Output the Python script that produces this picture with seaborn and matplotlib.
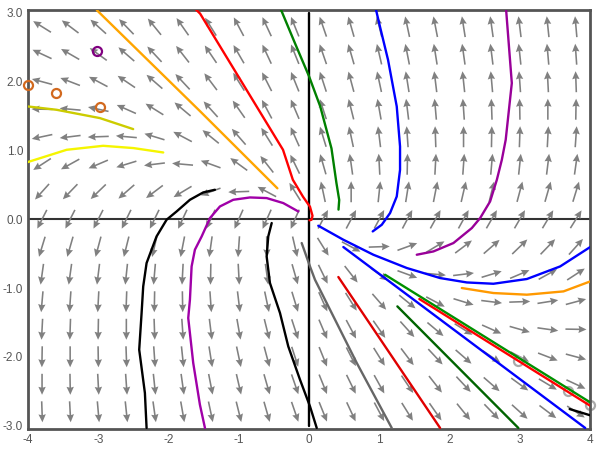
import numpy as np
import pandas as pd
import seaborn as sns
import matplotlib
matplotlib.use("Agg")
import matplotlib.pyplot as plt

# arrow grid
grid_x = [-3.8, -3.4, -3.0, -2.6, -2.2, -1.8, -1.4, -1.0, -0.6, -0.2,
          0.2, 0.6, 1.0, 1.4, 1.8, 2.2, 2.6, 3.0, 3.4, 3.8]
grid_y = [2.8, 2.4, 2.0, 1.6, 1.2, 0.8, 0.4, 0.0, -0.4, -0.8, -1.2, -1.6, -2.0, -2.4, -2.8]

# arrow directions in degrees, one row per grid_y value
arrow_deg = [
    [148, 143, 138, 134, 129, 125, 122, 118, 115, 112, 109, 106, 104, 102, 101, 99, 98, 97, 96, 95],
    [155, 150, 144, 139, 133, 128, 124, 120, 115, 112, 109, 106, 103, 101, 99, 98, 97, 96, 95, 94],
    [165, 159, 152, 146, 139, 133, 127, 122, 117, 112, 108, 105, 102, 99, 97, 96, 95, 94, 93, 92],
    [179, 175, 168, 156, 148, 140, 132, 125, 118, 113, 108, 104, 100, 97, 95, 94, 92, 91, 90, 89],
    [192, 187, 182, 175, 163, 152, 141, 131, 122, 114, 107, 102, 97, 94, 92, 90, 89, 88, 87, 86],
    [213, 209, 203, 197, 187, 175, 160, 144, 128, 116, 106, 98, 93, 89, 87, 86, 85, 84, 83, 82],
    [228, 226, 224, 221, 217, 211, 200, 182, 152, 122, 102, 90, 84, 81, 79, 77, 76, 75, 74, 73],
    [243, 243, 243, 244, 244, 245, 245, 246, 246, 246, 62, 62, 62, 62, 61, 61, 60, 60, 59, 58],
    [253, 254, 255, 256, 257, 259, 262, 266, 271, 283, 302, 332, 2, 20, 31, 37, 41, 44, 46, 48],
    [262, 262, 263, 264, 265, 267, 269, 273, 278, 286, 296, 308, 324, 340, 355, 7, 17, 23, 29, 33],
    [265, 266, 267, 268, 269, 271, 274, 277, 282, 287, 294, 302, 311, 321, 332, 343, 353, 2, 9, 15],
    [267, 268, 269, 270, 272, 274, 277, 280, 284, 288, 293, 298, 305, 312, 320, 328, 336, 344, 352, 359],
    [269, 270, 271, 272, 274, 276, 279, 282, 285, 288, 292, 297, 302, 307, 313, 319, 326, 332, 339, 345],
    [270, 271, 273, 274, 276, 278, 281, 283, 286, 289, 292, 296, 299, 304, 308, 313, 319, 324, 329, 335],
    [272, 273, 275, 276, 278, 280, 282, 284, 286, 289, 292, 295, 298, 302, 305, 309, 314, 318, 323, 327],
]

# trajectories
orange_x = [-3.02, -1.55, -0.45]
orange_y = [3.04, 1.57, 0.45]
red_x = [-1.61, -1.55, -0.37, -0.23, -0.085, 0.014, 0.05, 0.036, 0.007]
red_y = [3.05, 2.99, 1.01, 0.574, 0.327, 0.182, 0.05, -0.007, -0.015]
green_x = [-0.40, -0.20, 0.0, 0.16, 0.32, 0.39, 0.43, 0.42]
green_y = [3.05, 2.56, 2.08, 1.64, 1.03, 0.53, 0.28, 0.14]
blue_x = [0.954, 1.011, 1.125, 1.249, 1.296, 1.296, 1.249, 1.154, 1.036, 0.907]
blue_y = [3.045, 2.798, 2.318, 1.640, 1.058, 0.719, 0.331, 0.090, -0.080, -0.177]
purple_r_x = [2.806, 2.887, 2.80, 2.745, 2.674, 2.578, 2.436, 2.318, 2.056, 1.771, 1.534]
purple_r_y = [3.045, 1.98, 1.155, 0.865, 0.574, 0.259, 0.017, -0.128, -0.346, -0.468, -0.516]
olive_x = [-4.0, -3.594, -2.977, -2.503]
olive_y = [1.64, 1.592, 1.471, 1.311]
yellow_x = [-4.02, -3.45, -2.93, -2.50, -2.075]
yellow_y = [0.826, 1.01, 1.068, 1.035, 0.971]
black_l_x = [-1.339, -1.506, -1.695, -1.885, -2.027, -2.170, -2.241, -2.312,
             -2.360, -2.383, -2.417, -2.336, -2.312]
black_l_y = [0.429, 0.390, 0.283, 0.113, -0.007, -0.250, -0.443, -0.637,
             -0.977, -1.363, -1.897, -2.526, -3.035]
purple_l_x = [-0.152, -0.366, -0.603, -0.840, -1.078, -1.268, -1.410, -1.528,
              -1.624, -1.671, -1.695, -1.719, -1.648, -1.553, -1.481]
purple_l_y = [0.113, 0.235, 0.308, 0.317, 0.283, 0.186, 0.017, -0.250,
              -0.443, -0.686, -1.170, -1.436, -2.090, -2.696, -3.035]
black_m_x = [-0.531, -0.580, -0.603, -0.556, -0.413, -0.295, -0.128, 0.014, 0.11]
black_m_y = [-0.055, -0.25, -0.541, -0.927, -1.363, -1.849, -2.333, -2.721, -3.035]
gray_x = [-0.104, 0.014, 0.085, 0.68, 1.178]
gray_y = [-0.346, -0.686, -0.879, -2.09, -3.035]
blue_b_x = [0.132, 0.489, 0.916, 1.392, 1.866, 2.246, 2.625, 3.101, 3.575, 4.003]
blue_b_y = [-0.094, -0.298, -0.516, -0.709, -0.855, -0.919, -0.938, -0.869, -0.686, -0.404]
blue_s_x = [0.489, 3.932]
blue_s_y = [-0.404, -3.035]
orange_b_x = [2.175, 2.625, 3.101, 3.623, 4.003]
orange_b_y = [-1.0, -1.073, -1.097, -1.049, -0.904]
green_b_x = [1.083, 4.003]
green_b_y = [-0.807, -2.663]
red_b_x = [1.571, 4.0]
red_b_y = [-1.16, -2.71]
dgreen_x = [1.258, 2.98]
dgreen_y = [-1.267, -3.035]
red_s_x = [0.418, 1.866]
red_s_y = [-0.84, -3.035]
black_s_x = [3.71, 4.0]
black_s_y = [-2.76, -2.85]

# start points
orange_pts_x = [-4.0, -3.604, -2.977]
orange_pts_y = [1.955, 1.843, 1.631]
purple_pts_x = [-3.016]
purple_pts_y = [2.449]
gray_pts_x = [2.97, 3.69, 4.0]
gray_pts_y = [-2.06, -2.50, -2.70]

curves = [
    (orange_x, orange_y, "#FFA500"),
    (red_x, red_y, "#FF0000"),
    (green_x, green_y, "#008000"),
    (blue_x, blue_y, "#0000FF"),
    (purple_r_x, purple_r_y, "#990099"),
    (olive_x, olive_y, "#CCCC00"),
    (yellow_x, yellow_y, "#F5F500"),
    (black_l_x, black_l_y, "#000000"),
    (purple_l_x, purple_l_y, "#A000A8"),
    (black_m_x, black_m_y, "#000000"),
    (gray_x, gray_y, "#666666"),
    (blue_b_x, blue_b_y, "#0000FF"),
    (blue_s_x, blue_s_y, "#0000FF"),
    (orange_b_x, orange_b_y, "#FF9900"),
    (dgreen_x, dgreen_y, "#006400"),
    (red_s_x, red_s_y, "#E00000"),
    (green_b_x, green_b_y, "#009000"),
    (red_b_x, red_b_y, "#FF0000"),
    (black_s_x, black_s_y, "#000000"),
]

sns.set_theme(style="white")
plt.rcParams["font.family"] = ["Liberation Sans", "DejaVu Sans"]

fig = plt.figure(figsize=(6, 4.5), dpi=100)
ax = fig.add_axes([28 / 600, 1 - 429 / 450, 562 / 600, 419.5 / 450])
ax.set_xlim(-4, 4)
ax.set_ylim(-3.05, 3.05)

XX, YY = np.meshgrid(grid_x, grid_y)
rad = np.radians(np.array(arrow_deg, dtype=float))
ax.quiver(XX, YY, np.cos(rad), np.sin(rad), angles="uv", pivot="middle",
          units="dots", width=1.6, scale=1 / 21, scale_units="dots",
          headwidth=4.6, headlength=5.0, headaxislength=4.5,
          color="#808080", zorder=2)

ax.axhline(0, color="#333333", lw=1.5, zorder=1)
ax.plot([0, 0], [-3, 3], color="#000000", lw=1.7, zorder=1)

for xs, ys, c in curves:
    sns.lineplot(x=xs, y=ys, sort=False, estimator=None, color=c,
                 lw=1.7, ax=ax, zorder=3)

ax.plot(orange_pts_x, orange_pts_y, "o", mfc="none", mec="#D2691E", ms=6.5, mew=1.6,
        zorder=4, clip_on=False)
ax.plot(purple_pts_x, purple_pts_y, "o", mfc="none", mec="#800080", ms=6.5, mew=1.6,
        zorder=4, clip_on=False)
ax.plot(gray_pts_x, gray_pts_y, "o", mfc="none", mec="#AAAAAA", ms=6.5, mew=1.6,
        zorder=2.5, clip_on=False)

ax.set_xticks([-4, -3, -2, -1, 0, 1, 2, 3, 4])
ax.set_xticklabels(["-4", "-3", "-2", "-1", "0", "1", "2", "3", "4"])
ax.set_yticks([-3, -2, -1, 0, 1, 2, 3])
ax.set_yticklabels(["-3.0", "-2.0", "-1.0", "0.0", "1.0", "2.0", "3.0"])
ax.tick_params(length=0, labelsize=8.5, labelcolor="#555555", pad=3.5)
for s in ax.spines.values():
    s.set_color("#555555")
    s.set_linewidth(2)
ax.set_xlabel("")
ax.set_ylabel("")

fig.savefig("out.png", dpi=100)
